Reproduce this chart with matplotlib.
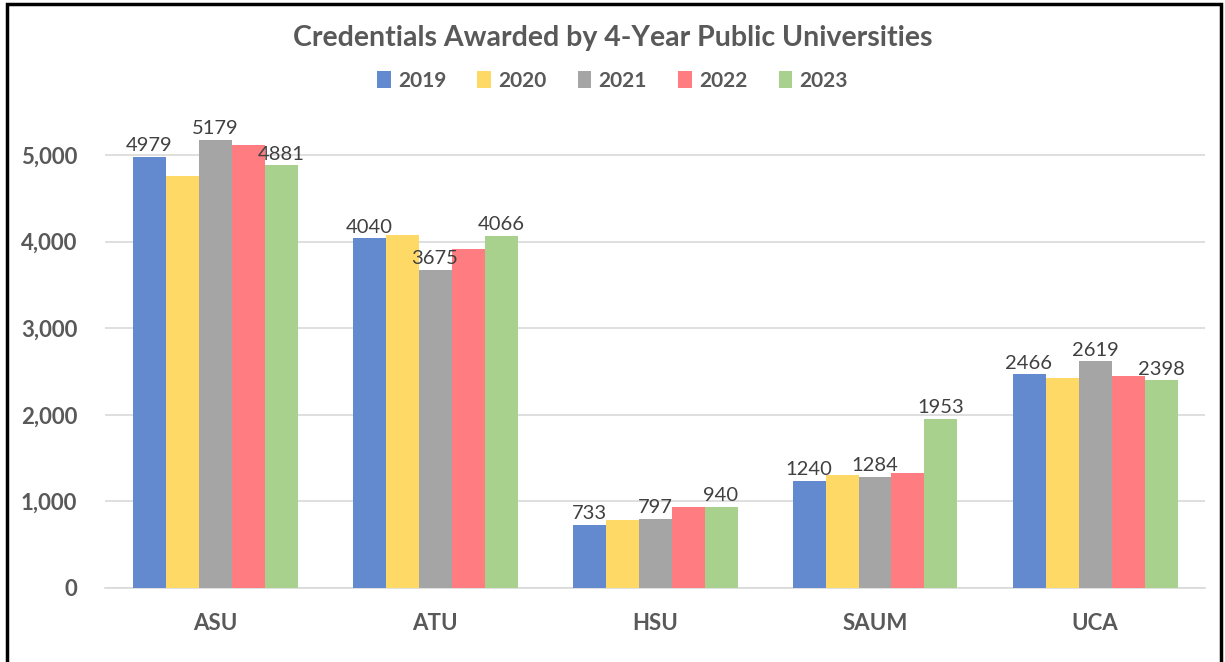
import matplotlib
matplotlib.use("Agg")
import matplotlib.pyplot as plt
import numpy as np
from matplotlib.patches import Rectangle

categories = ["ASU", "ATU", "HSU", "SAUM", "UCA"]
years = ["2019", "2020", "2021", "2022", "2023"]
v2019 = [4979, 4040, 733, 1240, 2466]
v2020 = [4755, 4075, 785, 1305, 2425]
v2021 = [5179, 3675, 797, 1284, 2619]
v2022 = [5120, 3920, 935, 1325, 2445]
v2023 = [4881, 4066, 940, 1953, 2398]
series = [v2019, v2020, v2021, v2022, v2023]
labeled = [True, False, True, False, True]
colors = ["#6389CE", "#FFD966", "#A5A5A5", "#FF7C80", "#A9D18E"]

plt.rcParams['font.family'] = ['Lato', 'DejaVu Sans']
fig = plt.figure(figsize=(12.25, 6.62), dpi=100)
ax = fig.add_axes([105/1225, 1-588/662, 1100/1225, (588-120.4)/662])

x = np.arange(len(categories))
w = 0.15
for i, (vals, yr, col) in enumerate(zip(series, years, colors)):
    pos = x + (i - 2) * w
    ax.bar(pos, vals, width=w, color=col, label=yr, zorder=3)
    if labeled[i]:
        for p, v in zip(pos, vals):
            ax.text(p, v + 30, str(v), ha='center', va='bottom', fontsize=14.5,
                    color='#404040', zorder=4)

ax.set_xlim(-0.5, 4.5)
ax.set_ylim(0, 5400)
ax.set_yticks([0, 1000, 2000, 3000, 4000, 5000])
ax.set_yticklabels(["0", "1,000", "2,000", "3,000", "4,000", "5,000"])
ax.set_xticks(x)
ax.set_xticklabels(categories)
ax.grid(axis='y', color='#D9D9D9', linewidth=1.2, zorder=0)
for s in ['top', 'right', 'left']:
    ax.spines[s].set_visible(False)
ax.spines['bottom'].set_color('#D9D9D9')
ax.spines['bottom'].set_linewidth(1.2)
ax.tick_params(axis='both', length=0, labelsize=16, labelcolor='#595959')
ax.tick_params(axis='x', pad=18)
ax.tick_params(axis='y', pad=20)
for t in ax.get_xticklabels() + ax.get_yticklabels():
    t.set_fontweight('bold')

fig.text(0.5, 1-38/662, "Credentials Awarded by 4-Year Public Universities",
         ha='center', va='center', fontsize=20.5, fontweight='bold', color='#595959')
leg = fig.legend(loc='center', bbox_to_anchor=(0.5, 1-81/662), ncol=5, frameon=False,
                 fontsize=15, handlelength=0.65, handleheight=0.9, columnspacing=1.5,
                 handletextpad=0.35)
for t in leg.get_texts():
    t.set_color('#595959')
    t.set_fontweight('bold')

fig.patches.append(Rectangle((7/1225, -0.05), 1214/1225, 1.05-4/662, transform=fig.transFigure,
                             fill=False, edgecolor='black', linewidth=2.5))
fig.savefig("out.png", dpi=100)
